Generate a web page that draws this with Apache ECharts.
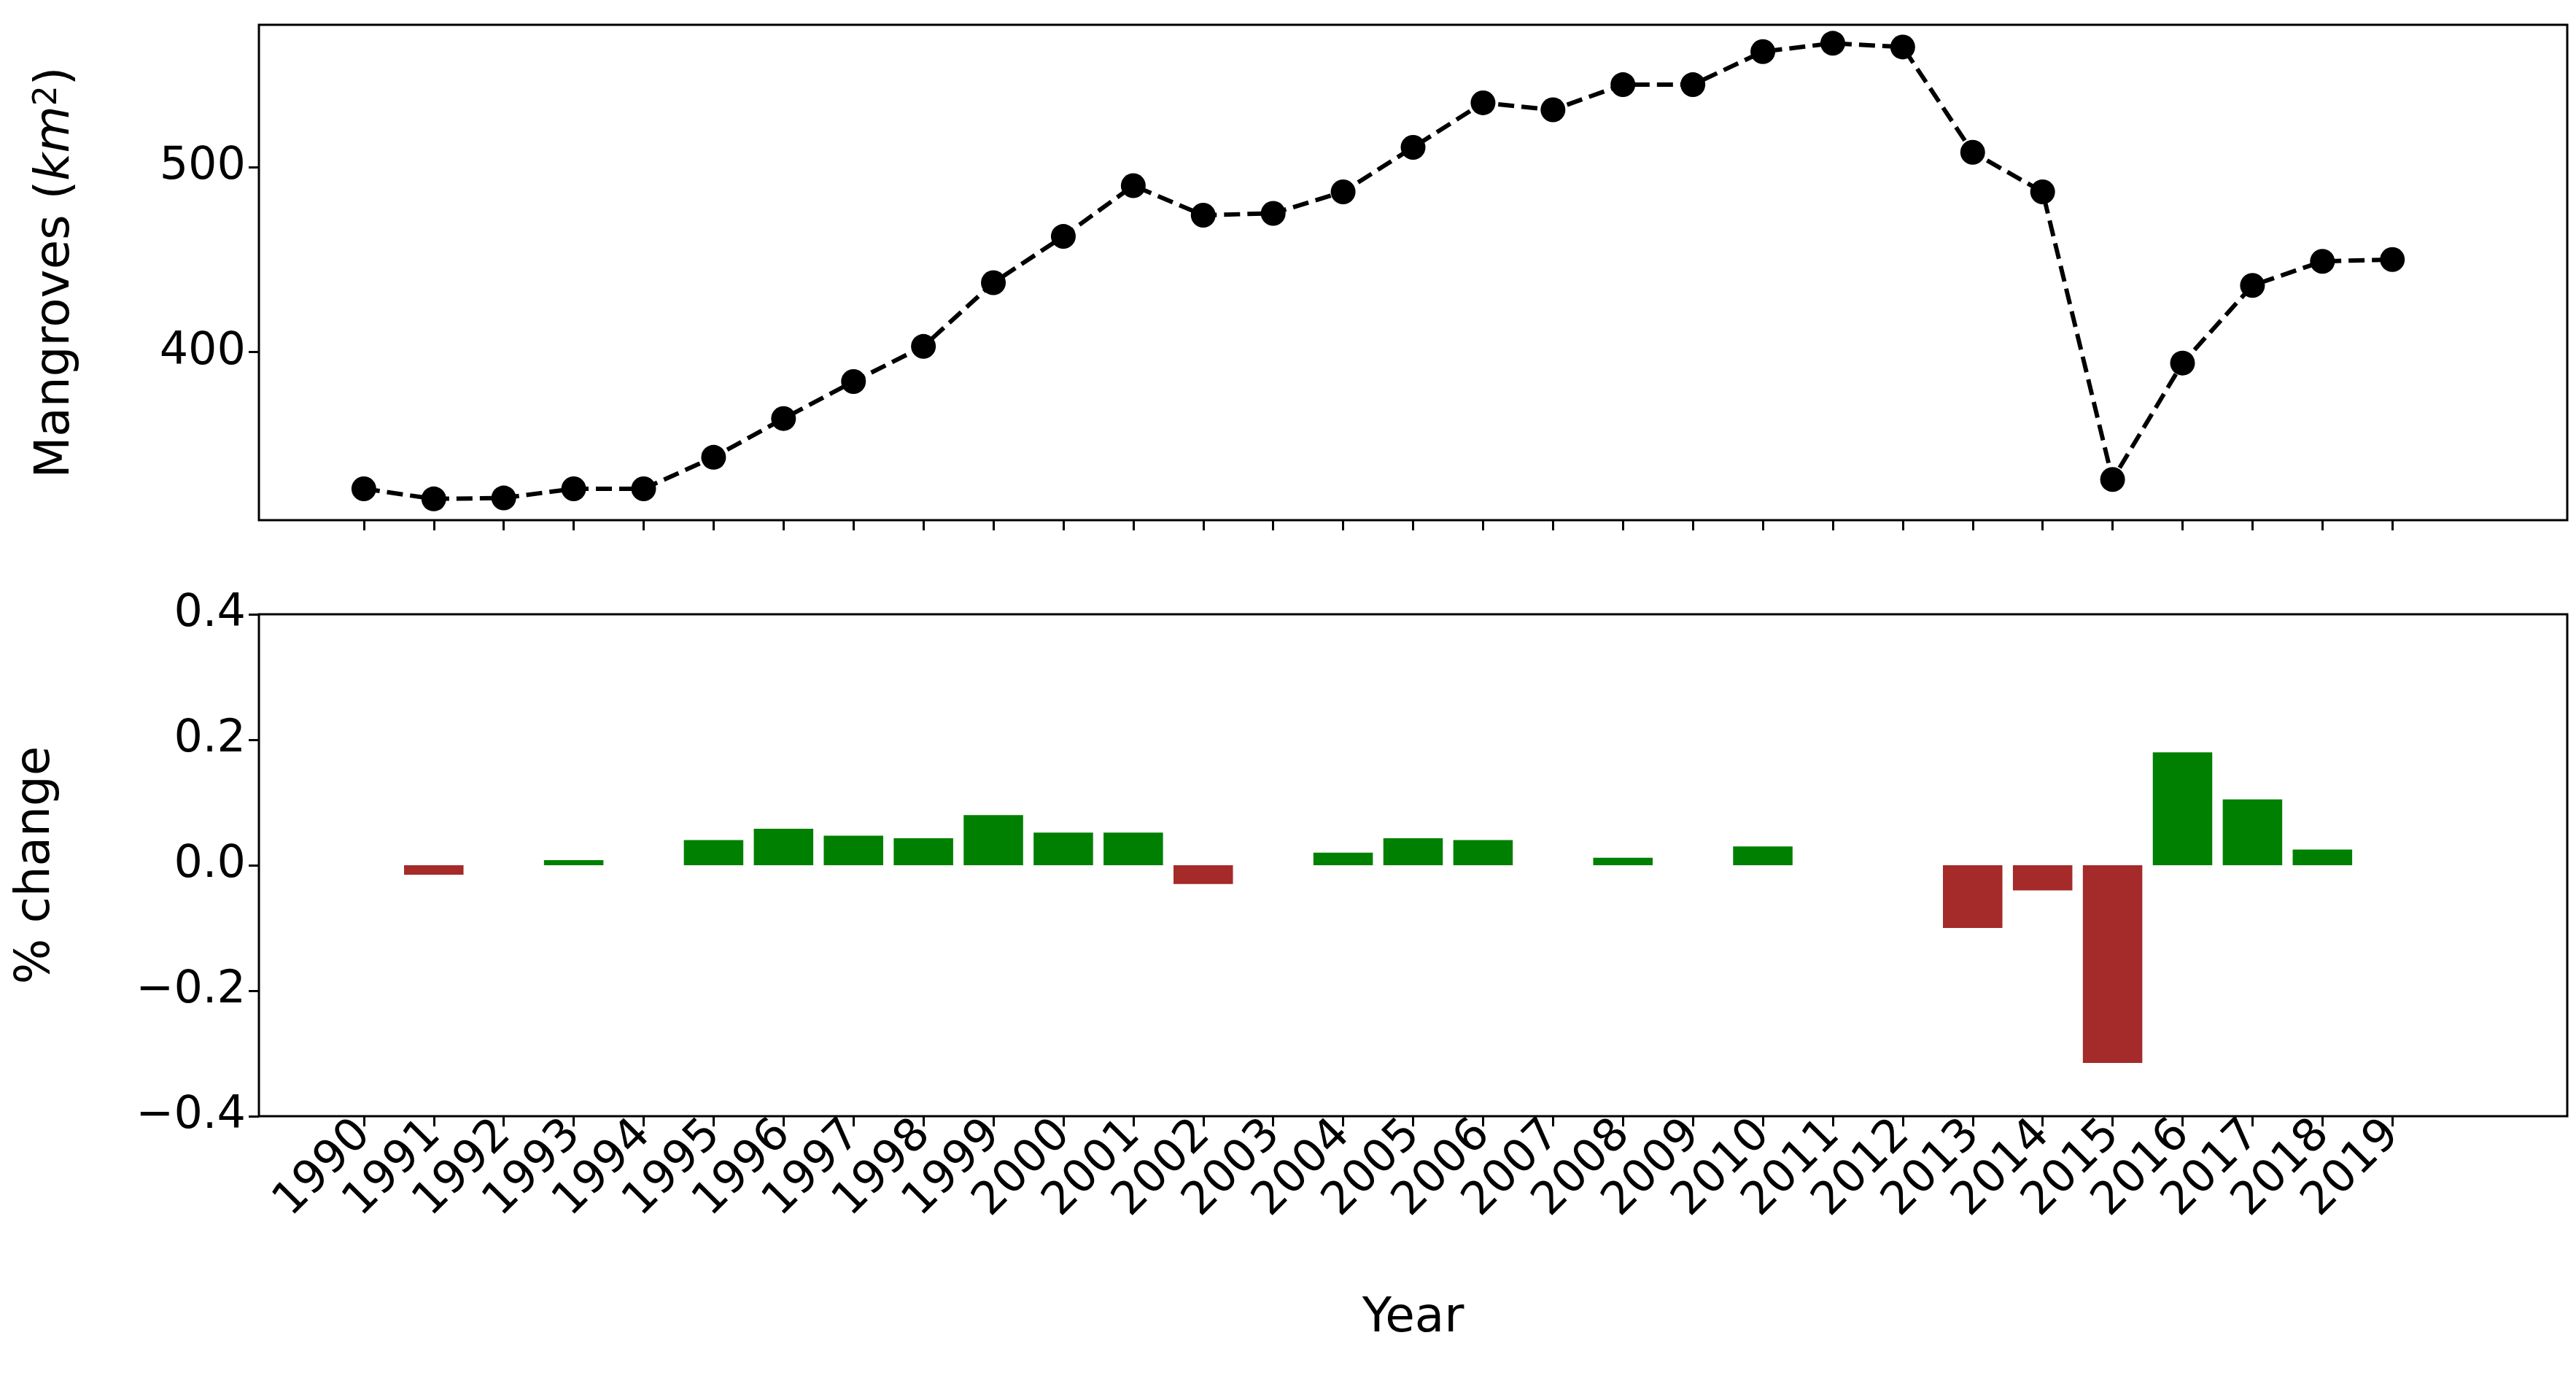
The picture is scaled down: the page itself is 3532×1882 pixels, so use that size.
<!DOCTYPE html>
<html><head><meta charset="utf-8">
<script src="https://cdn.jsdelivr.net/npm/echarts@6/dist/echarts.min.js"></script>
<style>html,body{margin:0;padding:0;background:#fff}#c{width:3532px;height:1882px}</style>
</head><body><div id="c"></div>
<script>
const years = [1990,1991,1992,1993,1994,1995,1996,1997,1998,1999,2000,2001,2002,2003,2004,2005,2006,2007,2008,2009,2010,2011,2012,2013,2014,2015,2016,2017,2018,2019];
const mangroves = [326,320.5,321,326,326,343,364,384,403,437.5,462.5,490,474,475,486.6,510.7,534.8,531,544.6,544.6,562.5,567,565,508,486.6,331,394,436,449,450];
const pctChange = [0,-0.015,0,0.008,0,0.04,0.058,0.047,0.043,0.08,0.052,0.052,-0.03,0,0.02,0.043,0.04,0,0.012,0,0.03,0,0,-0.1,-0.04,-0.315,0.18,0.105,0.025,0];
const topTicks = [400,500];

const cats = ['1989'].concat(years.map(String), ['2020','2021']);
const pad = v => [null].concat(v, [null, null]);
const isYear = (i) => i >= 1 && i <= years.length;
const font = 'DejaVu Sans';
const chart = echarts.init(document.getElementById('c'));
const xBase = {
  type: 'category', data: cats, boundaryGap: true,
  axisLine: {show: false, onZero: false},
  axisTick: {show: true, interval: (i) => isYear(i), alignWithLabel: true, length: 14, lineStyle: {color: '#000', width: 3}},
  splitLine: {show: false}
};
const yLabel = {color: '#000', fontSize: 62, fontFamily: font, margin: 18};
chart.setOption({
  animation: false,
  grid: [
    {left: 355, right: 12, top: 34, height: 679, show: true, borderColor: '#000', borderWidth: 3, backgroundColor: 'transparent'},
    {left: 355, right: 12, top: 842, height: 688, show: true, borderColor: '#000', borderWidth: 3, backgroundColor: 'transparent'}
  ],
  xAxis: [
    Object.assign({gridIndex: 0, axisLabel: {show: false}}, xBase),
    Object.assign({gridIndex: 1, name: 'Year', nameLocation: 'middle', nameGap: 245,
      nameTextStyle: {color: '#000', fontSize: 66, fontFamily: font},
      axisLabel: {interval: (i) => isYear(i), rotate: 45, color: '#000', fontSize: 62, fontFamily: font, margin: 16,
        formatter: (v) => (v === '1989' || v === '2020' || v === '2021') ? '' : v}}, xBase)
  ],
  yAxis: [
    {gridIndex: 0, type: 'value', min: 309, max: 577,
      name: '{n|Mangroves (}{i|km}{s|2}{n|)}', nameLocation: 'middle', nameGap: 245, nameRotate: 90,
      nameTextStyle: {rich: {n: {fontSize: 66, fontFamily: font, color: '#000'}, i: {fontSize: 66, fontFamily: font, fontStyle: 'italic', color: '#000'}, s: {fontSize: 44, fontFamily: font, color: '#000', verticalAlign: 'top'}}},
      axisLine: {show: false}, splitLine: {show: false},
      axisTick: {show: true, customValues: topTicks, length: 14, lineStyle: {color: '#000', width: 3}},
      axisLabel: Object.assign({customValues: topTicks}, yLabel)},
    {gridIndex: 1, type: 'value', min: -0.4, max: 0.4, interval: 0.2,
      name: '% change', nameLocation: 'middle', nameGap: 272, nameRotate: 90,
      nameTextStyle: {color: '#000', fontSize: 66, fontFamily: font},
      axisLine: {show: false}, splitLine: {show: false},
      axisTick: {show: true, length: 14, lineStyle: {color: '#000', width: 3}},
      axisLabel: Object.assign({formatter: (v) => { const s = Math.abs(v).toFixed(1); return v < -1e-9 ? '\u2212' + s : s; }}, yLabel)}
  ],
  series: [
    {type: 'line', xAxisIndex: 0, yAxisIndex: 0, data: pad(mangroves),
      symbol: 'circle', symbolSize: 34, itemStyle: {color: '#000'},
      lineStyle: {color: '#000', width: 6, type: [22, 10]}},
    {type: 'bar', xAxisIndex: 1, yAxisIndex: 1, barWidth: '85%',
      data: pad(pctChange).map(v => v === null ? null : {value: v, itemStyle: {color: v < 0 ? '#a52a2a' : '#008000'}})}
  ]
});
</script></body></html>
